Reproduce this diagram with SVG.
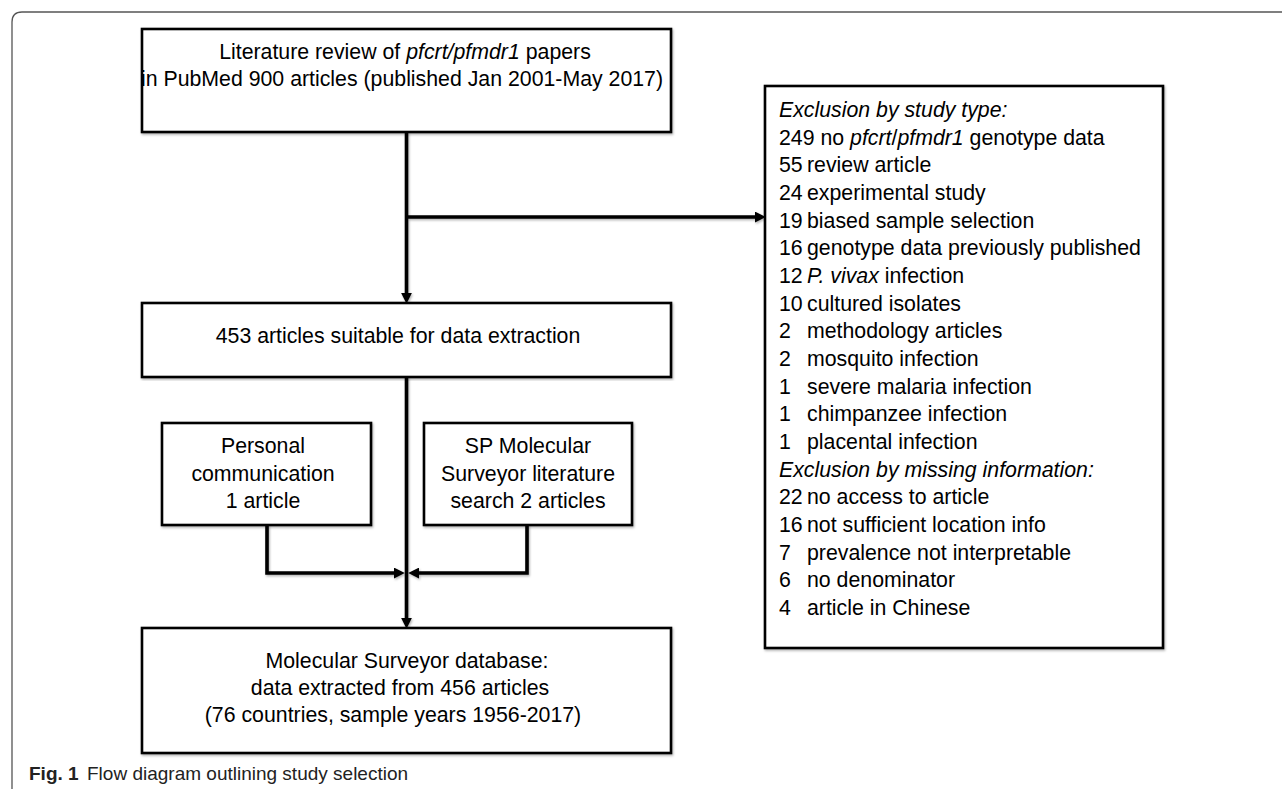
<svg xmlns="http://www.w3.org/2000/svg" width="1282" height="789" viewBox="0 0 1282 789">
<style>
  .t { font-family: "Liberation Sans", Arial, sans-serif; font-size: 21.3px; fill: #000; }
  .i { font-style: italic; }
  .box { fill: #fff; stroke: #000; stroke-width: 2.6; }
  .con { fill: none; stroke: #000; stroke-width: 3.6; }
  .cap { font-family: "Liberation Sans", Arial, sans-serif; font-size: 19px; fill: #222; }
</style>
<defs>
  <filter id="sh" x="-5%" y="-5%" width="110%" height="110%">
    <feDropShadow dx="1" dy="1.5" stdDeviation="1" flood-color="#000" flood-opacity="0.3"/>
  </filter>
  <marker id="ah" viewBox="0 0 10 10" refX="2" refY="5" markerWidth="11" markerHeight="11" markerUnits="userSpaceOnUse" orient="auto">
    <path d="M0,0 L10,5 L0,10 z" fill="#000"/>
  </marker>
</defs>
<rect width="1282" height="789" fill="#fff"/>
<path d="M12 789 V22 Q12 12 22 12 H1282" fill="none" stroke="#555" stroke-width="1.3"/>

<g id="connectors" filter="url(#sh)">
  <path class="con" d="M406.5 132 V295" marker-end="url(#ah)"/>
  <path class="con" d="M406.5 217 H757" marker-end="url(#ah)"/>
  <path class="con" d="M406.5 377 V620" marker-end="url(#ah)"/>
  <path class="con" d="M267 525 V573 H396" marker-end="url(#ah)"/>
  <path class="con" d="M527 525 V573 H417" marker-end="url(#ah)"/>
</g>

<g id="node-literature">
  <rect class="box" x="142" y="29" width="529" height="103" filter="url(#sh)"/>
  <text class="t" x="405" y="59" text-anchor="middle">Literature review of <tspan class="i">pfcrt/pfmdr1</tspan> papers</text>
  <text class="t" x="402" y="86" text-anchor="middle">in PubMed 900 articles (published Jan 2001-May 2017)</text>
</g>

<g id="node-exclusion">
  <rect class="box" x="765" y="86" width="398" height="562" filter="url(#sh)"/>
  <text class="t i" x="779" y="117">Exclusion by study type:</text>
  <text class="t" x="779" y="144.7">249 no <tspan class="i">pfcrt</tspan>/<tspan class="i">pfmdr1</tspan> genotype data</text>
  <text class="t" y="172.3"><tspan x="779">55</tspan><tspan x="807">review article</tspan></text>
  <text class="t" y="200"><tspan x="779">24</tspan><tspan x="807">experimental study</tspan></text>
  <text class="t" y="227.7"><tspan x="779">19</tspan><tspan x="807">biased sample selection</tspan></text>
  <text class="t" y="255.3"><tspan x="779">16</tspan><tspan x="807">genotype data previously published</tspan></text>
  <text class="t" y="283"><tspan x="779">12</tspan><tspan x="807" class="i">P. vivax</tspan> infection</text>
  <text class="t" y="310.7"><tspan x="779">10</tspan><tspan x="807">cultured isolates</tspan></text>
  <text class="t" y="338.3"><tspan x="779">2</tspan><tspan x="807">methodology articles</tspan></text>
  <text class="t" y="366"><tspan x="779">2</tspan><tspan x="807">mosquito infection</tspan></text>
  <text class="t" y="393.7"><tspan x="779">1</tspan><tspan x="807">severe malaria infection</tspan></text>
  <text class="t" y="421.3"><tspan x="779">1</tspan><tspan x="807">chimpanzee infection</tspan></text>
  <text class="t" y="449"><tspan x="779">1</tspan><tspan x="807">placental infection</tspan></text>
  <text class="t i" x="779" y="476.7">Exclusion by missing information:</text>
  <text class="t" y="504.3"><tspan x="779">22</tspan><tspan x="807">no access to article</tspan></text>
  <text class="t" y="532"><tspan x="779">16</tspan><tspan x="807">not sufficient location info</tspan></text>
  <text class="t" y="559.7"><tspan x="779">7</tspan><tspan x="807">prevalence not interpretable</tspan></text>
  <text class="t" y="587.3"><tspan x="779">6</tspan><tspan x="807">no denominator</tspan></text>
  <text class="t" y="615"><tspan x="779">4</tspan><tspan x="807">article in Chinese</tspan></text>
</g>

<g id="node-suitable">
  <rect class="box" x="142" y="303" width="529" height="74" filter="url(#sh)"/>
  <text class="t" x="398" y="343" text-anchor="middle">453 articles suitable for data extraction</text>
</g>

<g id="node-personal">
  <rect class="box" x="162" y="423" width="209" height="102" filter="url(#sh)"/>
  <text class="t" x="263" y="453" text-anchor="middle">Personal</text>
  <text class="t" x="263" y="480.5" text-anchor="middle">communication</text>
  <text class="t" x="263" y="508" text-anchor="middle">1 article</text>
</g>

<g id="node-sp">
  <rect class="box" x="424" y="423" width="208" height="102" filter="url(#sh)"/>
  <text class="t" x="528" y="453" text-anchor="middle">SP Molecular</text>
  <text class="t" x="528" y="480.5" text-anchor="middle">Surveyor literature</text>
  <text class="t" x="528" y="508" text-anchor="middle">search 2 articles</text>
</g>

<g id="node-database">
  <rect class="box" x="142" y="628" width="529" height="125" filter="url(#sh)"/>
  <text class="t" x="407" y="668" text-anchor="middle">Molecular Surveyor database:</text>
  <text class="t" x="400" y="695" text-anchor="middle">data extracted from 456 articles</text>
  <text class="t" x="393" y="722" text-anchor="middle">(76 countries, sample years 1956-2017)</text>
</g>

<g id="caption">
  <text class="cap" x="29" y="780"><tspan font-weight="bold">Fig. 1</tspan><tspan x="87">Flow diagram outlining study selection</tspan></text>
</g>
</svg>
